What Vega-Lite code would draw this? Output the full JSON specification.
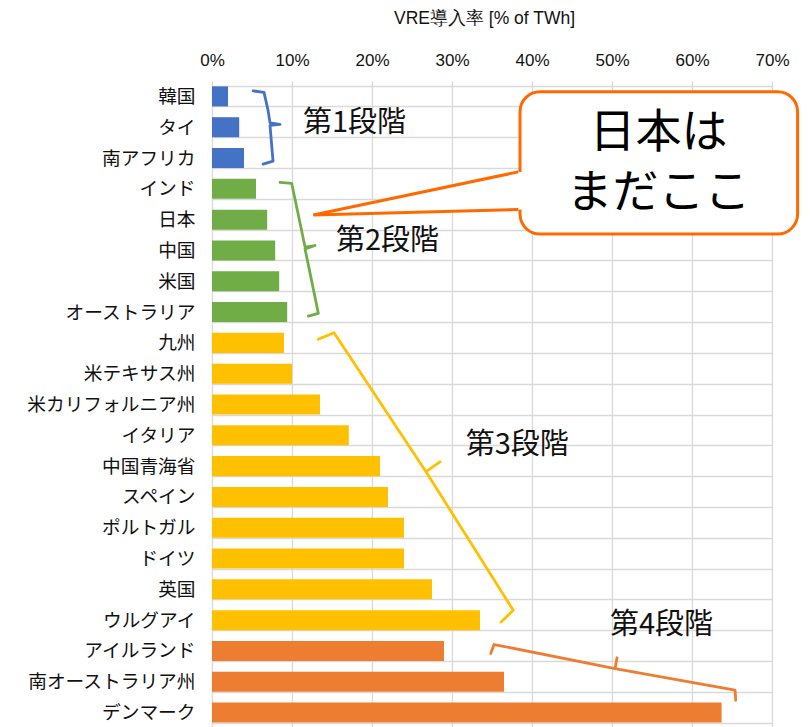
{
  "$schema": "https://vega.github.io/schema/vega-lite/v6.json",
  "autosize": {"type": "none"},
  "padding": {"left": 212, "top": 81, "right": 38, "bottom": 0},
  "width": 560,
  "height": 647,
  "background": "white",
  "config": {"view": {"stroke": null}, "font": "Liberation Sans"},
  "datasets": {
    "bars": [
      {"country": "韓国", "v": 2.0, "stage": "1"},
      {"country": "タイ", "v": 3.4, "stage": "1"},
      {"country": "南アフリカ", "v": 4.0, "stage": "1"},
      {"country": "インド", "v": 5.5, "stage": "2"},
      {"country": "日本", "v": 6.9, "stage": "2"},
      {"country": "中国", "v": 7.9, "stage": "2"},
      {"country": "米国", "v": 8.4, "stage": "2"},
      {"country": "オーストラリア", "v": 9.4, "stage": "2"},
      {"country": "九州", "v": 9.0, "stage": "3"},
      {"country": "米テキサス州", "v": 10.0, "stage": "3"},
      {"country": "米カリフォルニア州", "v": 13.5, "stage": "3"},
      {"country": "イタリア", "v": 17.1, "stage": "3"},
      {"country": "中国青海省", "v": 21.0, "stage": "3"},
      {"country": "スペイン", "v": 22.0, "stage": "3"},
      {"country": "ポルトガル", "v": 24.0, "stage": "3"},
      {"country": "ドイツ", "v": 24.0, "stage": "3"},
      {"country": "英国", "v": 27.5, "stage": "3"},
      {"country": "ウルグアイ", "v": 33.5, "stage": "3"},
      {"country": "アイルランド", "v": 29.0, "stage": "4"},
      {"country": "南オーストラリア州", "v": 36.5, "stage": "4"},
      {"country": "デンマーク", "v": 63.7, "stage": "4"}
    ],
    "braces": [
      {"stage": "1", "o": 1, "x": 5.13, "r": 0.32},
      {"stage": "1", "o": 2, "x": 6.5, "r": 0.37},
      {"stage": "1", "o": 3, "x": 7.0, "r": 0.94},
      {"stage": "1", "o": 4, "x": 7.25, "r": 1.36},
      {"stage": "1", "o": 5, "x": 8.5, "r": 1.41},
      {"stage": "1", "o": 6, "x": 7.25, "r": 1.44},
      {"stage": "1", "o": 7, "x": 7.63, "r": 2.6},
      {"stage": "1", "o": 8, "x": 6.38, "r": 2.7},
      {"stage": "2", "o": 1, "x": 8.5, "r": 3.29},
      {"stage": "2", "o": 2, "x": 9.96, "r": 3.32},
      {"stage": "2", "o": 3, "x": 11.63, "r": 5.39},
      {"stage": "2", "o": 4, "x": 12.88, "r": 5.34},
      {"stage": "2", "o": 5, "x": 11.63, "r": 5.45},
      {"stage": "2", "o": 6, "x": 13.29, "r": 7.54},
      {"stage": "2", "o": 7, "x": 12.04, "r": 7.63},
      {"stage": "3", "o": 1, "x": 13.29, "r": 8.38},
      {"stage": "3", "o": 2, "x": 15.25, "r": 8.17},
      {"stage": "3", "o": 3, "x": 26.75, "r": 12.68},
      {"stage": "3", "o": 4, "x": 28.5, "r": 12.36},
      {"stage": "3", "o": 5, "x": 26.75, "r": 12.68},
      {"stage": "3", "o": 6, "x": 37.66, "r": 17.18},
      {"stage": "3", "o": 7, "x": 36.13, "r": 17.56},
      {"stage": "4", "o": 1, "x": 34.84, "r": 18.58},
      {"stage": "4", "o": 2, "x": 35.25, "r": 18.29},
      {"stage": "4", "o": 3, "x": 50.38, "r": 19.07},
      {"stage": "4", "o": 4, "x": 50.63, "r": 18.72},
      {"stage": "4", "o": 5, "x": 50.38, "r": 19.07},
      {"stage": "4", "o": 6, "x": 65.38, "r": 19.77},
      {"stage": "4", "o": 7, "x": 65.46, "r": 20.1}
    ],
    "stageLabels": [
      {"label": "第1段階", "x": 11.375, "r": 1.37},
      {"label": "第2段階", "x": 15.5, "r": 5.19},
      {"label": "第3段階", "x": 31.71, "r": 11.82},
      {"label": "第4段階", "x": 49.75, "r": 17.66}
    ],
    "box": [{"x": 38.5, "x2": 73.2, "r": 0.35, "r2": 4.97}],
    "tailFill": [
      {"x": 12.66, "r": 4.35, "r2": 4.35},
      {"x": 38.29, "r": 2.95, "r2": 4.17},
      {"x": 39.0, "r": 2.95, "r2": 4.17}
    ],
    "tailLine": [
      {"o": 1, "x": 38.29, "r": 2.95},
      {"o": 2, "x": 12.66, "r": 4.35},
      {"o": 3, "x": 38.29, "r": 4.17}
    ],
    "calloutText": [
      {"t": "日本は", "x": 55.8, "r": 1.68},
      {"t": "まだここ", "x": 55.8, "r": 3.62}
    ]
  },
  "layer": [
    {
      "data": {"name": "bars"},
      "mark": {"type": "bar"},
      "encoding": {
        "y": {
          "field": "country", "type": "nominal", "sort": null,
          "scale": {"paddingInner": 0.35, "paddingOuter": 0.175},
          "axis": {
            "title": null, "grid": true, "tickBand": "extent", "gridColor": "#d9d9d9", "gridWidth": 1.3,
            "domain": false, "ticks": false, "labelFont": "Noto Sans CJK JP", "labelFontSize": 18.7,
            "labelColor": "#111111", "labelPadding": 17
          }
        },
        "x": {
          "field": "v", "type": "quantitative",
          "scale": {"domain": [0, 70], "nice": false},
          "axis": {
            "orient": "top", "values": [0, 10, 20, 30, 40, 50, 60, 70],
            "labelExpr": "datum.value + '%'", "grid": true, "gridColor": "#d9d9d9", "gridWidth": 1.3,
            "domain": false, "ticks": false, "labelFontSize": 17, "labelPadding": 12, "labelColor": "#111111",
            "labelFlush": false, "title": "VRE導入率 [% of TWh]", "titleFontSize": 17.5, "titleFontWeight": "normal",
            "titleX": 272, "titleY": -63, "titleBaseline": "middle", "titleAlign": "center", "titleColor": "#111111"
          }
        },
        "color": {
          "field": "stage", "type": "nominal",
          "scale": {"domain": ["1", "2", "3", "4"], "range": ["#4472C4", "#70AD47", "#FFC000", "#ED7D31"]},
          "legend": null
        }
      }
    },
    {
      "data": {"name": "braces"},
      "mark": {"type": "line", "strokeWidth": 2.8, "strokeCap": "round", "strokeJoin": "round"},
      "encoding": {
        "x": {"field": "x", "type": "quantitative"},
        "y": {"field": "r", "type": "quantitative", "scale": {"domain": [0, 21], "reverse": true, "nice": false, "zero": false}, "axis": null},
        "order": {"field": "o"},
        "detail": {"field": "stage"},
        "color": {"field": "stage", "type": "nominal", "legend": null}
      }
    },
    {
      "data": {"name": "stageLabels"},
      "mark": {"type": "text", "align": "left", "baseline": "middle", "font": "Noto Sans CJK JP", "fontSize": 29, "color": "#111111"},
      "encoding": {
        "x": {"field": "x", "type": "quantitative"},
        "y": {"field": "r", "type": "quantitative", "scale": {"domain": [0, 21], "reverse": true, "nice": false, "zero": false}, "axis": null},
        "text": {"field": "label"}
      }
    },
    {
      "data": {"name": "box"},
      "mark": {"type": "rect", "fill": "white", "stroke": "#FF6A00", "strokeWidth": 3, "cornerRadius": 20},
      "encoding": {
        "x": {"field": "x", "type": "quantitative"},
        "x2": {"field": "x2"},
        "y": {"field": "r", "type": "quantitative", "scale": {"domain": [0, 21], "reverse": true, "nice": false, "zero": false}, "axis": null},
        "y2": {"field": "r2"}
      }
    },
    {
      "data": {"name": "tailFill"},
      "mark": {"type": "area", "orient": "vertical", "fill": "white", "opacity": 1},
      "encoding": {
        "x": {"field": "x", "type": "quantitative"},
        "y": {"field": "r", "type": "quantitative", "scale": {"domain": [0, 21], "reverse": true, "nice": false, "zero": false}, "axis": null},
        "y2": {"field": "r2"}
      }
    },
    {
      "data": {"name": "tailLine"},
      "mark": {"type": "line", "color": "#FF6A00", "strokeWidth": 3, "strokeJoin": "miter"},
      "encoding": {
        "x": {"field": "x", "type": "quantitative"},
        "y": {"field": "r", "type": "quantitative", "scale": {"domain": [0, 21], "reverse": true, "nice": false, "zero": false}, "axis": null},
        "order": {"field": "o"}
      }
    },
    {
      "data": {"name": "calloutText"},
      "mark": {"type": "text", "align": "center", "baseline": "middle", "font": "Noto Sans CJK JP", "fontSize": 46, "color": "#000000"},
      "encoding": {
        "x": {"field": "x", "type": "quantitative"},
        "y": {"field": "r", "type": "quantitative", "scale": {"domain": [0, 21], "reverse": true, "nice": false, "zero": false}, "axis": null},
        "text": {"field": "t"}
      }
    }
  ],
  "resolve": {"scale": {"y": "independent"}}
}
